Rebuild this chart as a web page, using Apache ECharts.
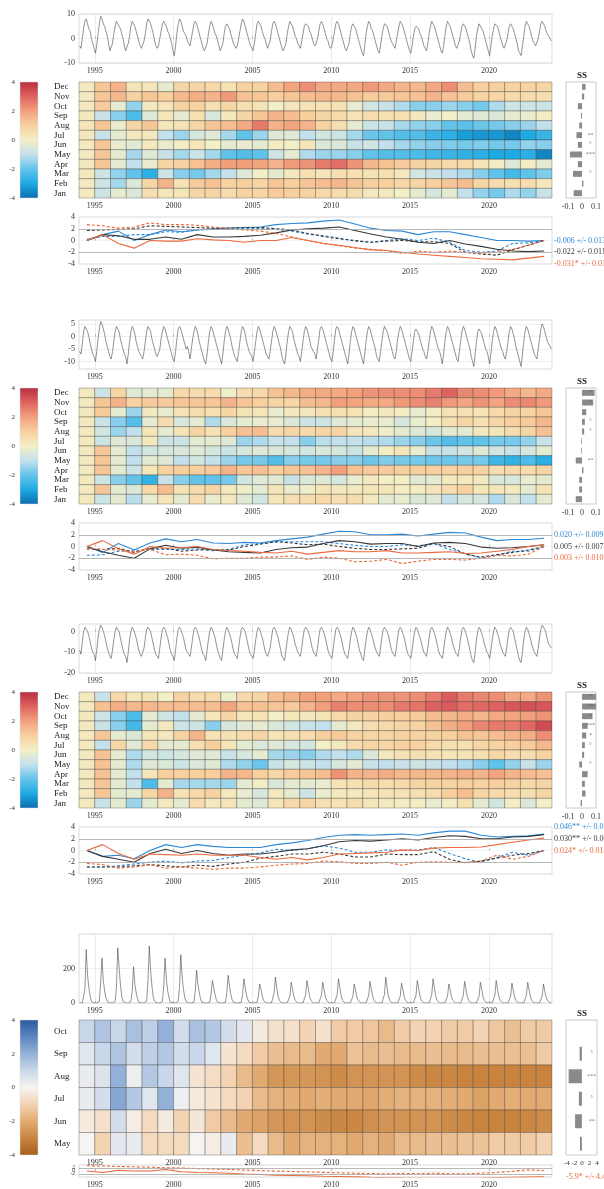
<!DOCTYPE html>
<html><head><meta charset="utf-8">
<script src="https://cdn.jsdelivr.net/npm/echarts@6/dist/echarts.min.js"></script>
<style>html,body{margin:0;padding:0;background:#fff}#c{width:604px;height:1189px}</style>
</head><body><div id="c"></div>
<script>
// ---------------- DATA ----------------
const YEARS = [1994,1995,1996,1997,1998,1999,2000,2001,2002,2003,2004,2005,2006,2007,2008,2009,2010,2011,2012,2013,2014,2015,2016,2017,2018,2019,2020,2021,2022,2023];
const YEAR_TICKS = [1995,2000,2005,2010,2015,2020];
const ROWS12 = ['Dec','Nov','Oct','Sep','Aug','Jul','Jun','May','Apr','Mar','Feb','Jan'];
const ROWS6 = ['Oct','Sep','Aug','Jul','Jun','May'];

// monthly time series, one row per year (Jan..Dec)
const ts1 = [
[-3,-4,0,4,7,8,6,4,3,0,-2,-4],[-6,-3,2,6,9,8,6,5,3,1,-2,-5],[-5,-2,2,5,7,7,5,4,2,0,-3,-5],[-5,-2,1,5,7,6,5,3,1,-1,-3,-4],
[-4,-1,2,6,8,7,6,4,2,-1,-3,-4],[-3,0,3,6,7,6,5,3,2,0,-2,-5],[-7,-3,2,6,8,7,5,3,2,1,-1,-2],[-3,0,3,6,7,6,4,2,0,-2,-4,-5],
[-5,-2,2,5,7,6,4,2,1,-1,-3,-5],[-5,-2,2,5,6,6,4,2,0,-2,-3,-4],[-3,0,3,6,8,7,5,3,1,-1,-3,-4],[-5,-2,2,6,7,7,5,3,1,0,-2,-4],
[-4,-1,3,6,7,6,4,2,0,-2,-4,-5],[-5,-2,2,5,7,7,5,3,1,0,-2,-3],[-4,-1,2,5,6,6,5,3,2,0,-2,-3],[-2,0,3,6,7,6,4,2,0,-1,-3,-4],
[-3,0,3,6,7,6,4,2,0,-2,-4,-5],[-5,-2,2,5,6,5,4,2,0,-2,-4,-6],[-7,-3,2,5,7,6,4,3,1,-1,-3,-5],[-6,-3,1,4,6,6,5,3,1,-1,-2,-3],
[-4,-1,2,5,7,6,5,3,1,-1,-3,-5],[-6,-3,1,4,5,5,4,2,1,-1,-3,-4],[-5,-2,2,5,7,6,5,3,1,-1,-3,-5],[-6,-3,1,5,7,6,5,3,1,-1,-3,-4],
[-4,-1,2,5,6,5,4,2,0,-2,-5,-7],[-8,-4,1,4,6,6,4,3,1,-1,-3,-5],[-7,-3,1,4,6,6,5,3,1,-1,-3,-4],[-4,-1,2,5,6,5,4,2,0,-2,-5,-6],
[-7,-3,1,5,7,6,5,3,1,-1,-2,-3],[-3,0,3,6,7,7,5,3,2,1,0,-1]];
const ts2 = [
[-6,-7,-3,2,4,4,2,0,-3,-5,-7,-8],[-10,-6,-1,3,6,5,3,1,-2,-4,-6,-8],[-9,-6,-2,2,4,4,2,-1,-3,-5,-7,-8],[-11,-7,-2,2,4,3,1,-2,-4,-6,-7,-8],
[-9,-6,-2,2,4,4,2,-1,-3,-5,-7,-8],[-8,-5,-1,2,4,3,1,-1,-3,-5,-7,-9],[-10,-6,-1,3,4,3,1,-1,-3,-5,-4,-6],[-9,-5,-1,2,4,3,1,-2,-4,-6,-8,-10],
[-11,-7,-2,2,4,3,1,-1,-3,-5,-7,-9],[-11,-7,-2,2,4,3,1,-1,-4,-6,-8,-9],[-10,-6,-2,2,4,3,1,-2,-4,-6,-7,-8],[-10,-6,-2,2,4,3,1,-1,-3,-5,-7,-8],
[-9,-6,-2,2,4,3,1,-1,-3,-5,-8,-10],[-11,-7,-2,2,4,4,2,-1,-3,-5,-7,-8],[-10,-6,-2,2,4,3,1,-1,-4,-5,-6,-7],[-9,-5,-1,3,4,3,1,-1,-3,-5,-7,-9],
[-10,-6,-1,3,4,3,1,-1,-3,-5,-7,-9],[-11,-7,-2,2,4,3,1,-1,-3,-5,-7,-9],[-11,-7,-2,2,4,3,1,-1,-3,-5,-8,-9],[-10,-6,-2,2,4,4,2,0,-2,-4,-6,-8],
[-9,-6,-1,2,4,3,1,-1,-3,-5,-7,-9],[-10,-6,-2,2,3,3,1,-1,-3,-5,-6,-8],[-9,-6,-2,2,4,3,1,-1,-3,-5,-6,-8],[-11,-7,-2,2,4,3,1,-1,-3,-5,-7,-9],
[-10,-6,-2,2,4,3,1,-1,-3,-5,-8,-10],[-12,-7,-2,2,3,3,1,-1,-3,-5,-6,-8],[-11,-7,-2,2,4,3,1,-1,-3,-5,-6,-8],[-9,-6,-2,2,4,3,1,-1,-4,-6,-8,-10],
[-12,-7,-2,2,4,3,1,-1,-3,-5,-7,-8],[-9,-5,-1,3,5,4,2,0,-2,-3,-4,-5]];
const ts3 = [
[-9,-11,-5,0,2,2,0,-2,-5,-8,-10,-11],[-14,-9,-3,1,3,2,0,-2,-5,-8,-10,-12],[-13,-9,-4,0,2,2,0,-3,-6,-9,-11,-12],[-15,-10,-4,0,2,1,-1,-3,-6,-9,-11,-12],
[-12,-8,-3,1,2,2,0,-3,-6,-9,-11,-12],[-13,-8,-3,1,2,1,-1,-3,-6,-9,-11,-12],[-14,-9,-3,1,2,1,-1,-3,-6,-9,-10,-11],[-12,-8,-3,1,2,1,-1,-3,-6,-9,-11,-12],
[-14,-9,-4,0,2,1,-1,-3,-6,-9,-11,-13],[-14,-9,-4,0,2,1,-1,-3,-6,-9,-11,-12],[-13,-8,-3,1,2,2,0,-3,-6,-9,-11,-12],[-13,-9,-4,0,2,1,-1,-3,-6,-9,-11,-12],
[-12,-8,-3,1,2,1,-1,-3,-6,-9,-12,-13],[-14,-9,-4,0,2,1,-1,-3,-6,-8,-10,-11],[-12,-8,-3,1,2,1,0,-2,-5,-8,-10,-11],[-12,-8,-3,1,2,1,-1,-3,-6,-9,-11,-12],
[-13,-8,-3,1,2,1,-1,-3,-6,-9,-11,-12],[-13,-9,-4,0,2,1,-1,-3,-6,-9,-11,-13],[-14,-9,-4,0,2,1,-1,-3,-6,-8,-10,-11],[-12,-8,-3,1,2,2,0,-2,-5,-8,-10,-11],
[-12,-8,-3,1,2,1,-1,-3,-6,-9,-11,-12],[-13,-9,-4,0,2,1,-1,-3,-5,-8,-10,-11],[-12,-8,-3,1,2,1,-1,-3,-6,-9,-11,-12],[-13,-9,-4,0,2,1,-1,-3,-6,-8,-10,-11],
[-12,-8,-3,1,2,1,-1,-3,-6,-9,-12,-14],[-15,-10,-4,0,2,1,-1,-3,-6,-8,-10,-11],[-13,-9,-4,0,2,1,-1,-3,-6,-8,-10,-11],[-12,-8,-3,1,2,2,0,-3,-6,-9,-12,-14],
[-15,-10,-4,0,2,1,-1,-3,-6,-8,-10,-11],[-12,-8,-3,1,3,3,1,-1,-4,-6,-7,-8]];
const ts4 = [
[0,0,0,10,80,310,160,90,40,10,0,0],[0,0,0,10,120,260,130,70,30,10,0,0],[0,0,0,10,90,320,210,110,40,10,0,0],[0,0,0,10,70,210,110,60,25,5,0,0],
[0,0,0,10,130,330,190,100,35,10,0,0],[0,0,0,10,100,260,140,70,30,5,0,0],[0,0,0,10,90,280,150,80,30,10,0,0],[0,0,0,5,70,190,110,60,25,5,0,0],
[0,0,0,5,50,130,90,50,20,5,0,0],[0,0,0,5,60,160,100,50,20,5,0,0],[0,0,0,5,50,140,90,45,20,5,0,0],[0,0,0,5,40,110,80,40,15,5,0,0],
[0,0,0,5,60,150,90,40,15,5,0,0],[0,0,0,5,40,120,80,40,15,5,0,0],[0,0,0,5,50,130,85,40,15,5,0,0],[0,0,0,5,45,120,80,40,15,5,0,0],
[0,0,0,5,50,140,90,45,15,5,0,0],[0,0,0,5,40,110,75,35,15,5,0,0],[0,0,0,5,45,125,80,40,15,5,0,0],[0,0,0,5,50,150,90,40,15,5,0,0],
[0,0,0,5,40,115,80,35,15,5,0,0],[0,0,0,5,45,130,85,40,15,5,0,0],[0,0,0,5,50,140,85,40,15,5,0,0],[0,0,0,5,40,110,75,35,15,5,0,0],
[0,0,0,5,45,125,80,40,15,5,0,0],[0,0,0,5,40,120,80,35,15,5,0,0],[0,0,0,5,45,130,80,40,15,5,0,0],[0,0,0,5,40,115,75,35,15,5,0,0],
[0,0,0,5,45,120,80,40,15,5,0,0],[0,0,0,5,40,110,70,35,15,5,0,0]];

// heatmap anomalies, rows top->bottom, 1994..2023
const heat1 = [
[0.2,1.2,1.6,0.3,0.3,-0.3,0.8,0.8,0.7,0.4,0.9,0.9,1.4,1.9,2.3,1.8,1.8,1.8,2.1,1.8,1.6,1.5,1.8,2.3,1.4,1.0,1.0,0.9,0.9,0.8],
[0.2,1.2,1.5,0.9,1.2,1.0,1.5,1.7,1.6,2.1,1.3,1.2,1.0,1.2,1.4,1.5,1.5,1.3,1.1,1.1,1.2,1.3,1.6,1.3,1.1,0.9,0.8,0.7,0.6,0.5],
[0.2,1.1,-0.3,-1.5,0.2,0.3,0.9,0.9,0.5,0.8,0.5,0.4,0.0,0.3,0.4,0.4,0.4,-0.2,-0.7,-0.9,-1.2,-1.6,-1.6,-1.4,-1.6,-1.8,-1.2,-0.8,-0.8,-0.8],
[0.2,-0.9,-1.6,-2.3,-0.4,0.3,-0.3,0.5,-0.6,0.2,0.8,1.2,1.6,1.4,1.0,0.8,0.7,0.4,0.6,0.5,0.5,0.2,-0.2,0.0,-0.3,-0.4,-0.5,-0.3,-0.2,0.1],
[0.3,1.2,-0.2,0.8,1.2,0.3,0.4,0.8,1.2,1.4,1.8,2.6,1.6,1.9,1.6,0.9,0.5,-0.3,-0.8,-0.9,-1.3,-1.5,-1.6,-2.0,-2.1,-1.9,-1.8,-1.6,-1.4,-1.0],
[0.2,-0.9,-0.3,0.2,0.2,-1.0,-1.4,-0.6,-0.4,-1.3,-2.0,-1.4,-0.4,-0.4,-1.0,-0.7,-0.8,-1.3,-1.9,-2.0,-2.2,-2.2,-2.6,-2.8,-3.2,-3.3,-3.3,-3.6,-3.0,-2.6],
[0.2,1.2,-0.2,-0.4,0.2,-0.2,0.1,0.3,0.0,-0.3,-0.2,-0.3,0.1,0.0,0.3,-0.5,-0.5,-0.9,-0.7,-1.0,-1.3,-1.5,-1.6,-1.7,-1.8,-1.7,-1.8,-1.8,-1.5,-1.6],
[0.2,1.2,-0.3,-1.3,-0.4,-0.9,-1.3,-0.8,-1.3,-2.0,-2.2,-2.0,-0.8,-0.3,-1.2,-1.4,-1.4,-1.6,-2.0,-2.2,-2.2,-2.3,-2.5,-2.6,-2.7,-2.8,-3.0,-3.0,-2.8,-3.6],
[0.2,1.2,-0.3,-1.0,-0.2,0.8,0.9,1.3,1.7,2.0,2.0,1.9,1.6,2.1,2.2,2.6,2.8,2.2,1.5,1.3,1.1,0.9,0.8,0.7,0.7,0.4,0.1,-0.5,0.1,-0.3],
[0.2,-0.8,-1.5,-2.0,-2.8,-0.8,-1.6,-1.8,-1.3,-1.0,-0.4,0.0,-0.3,0.2,0.5,0.3,0.5,0.5,0.4,0.5,0.2,-0.7,-0.9,-1.0,-1.2,-1.6,-2.0,-2.4,-2.0,-1.7],
[0.2,-0.8,-1.3,-0.5,0.8,1.6,0.4,1.1,1.3,0.9,1.0,0.8,1.2,1.0,1.2,1.4,1.5,1.2,1.0,1.0,0.8,0.8,1.0,1.2,1.4,0.8,0.6,0.5,0.6,0.2],
[0.2,-0.8,-0.3,-0.5,0.5,0.3,0.3,0.8,0.8,0.6,0.9,0.8,1.1,1.0,0.9,0.7,0.6,0.6,0.2,0.2,0.0,-0.3,-0.6,-0.3,-1.0,-1.5,-1.8,-1.2,-1.5,-0.9]];
const heat2 = [
[0.2,-0.8,0.8,-0.4,-0.3,-0.3,0.7,0.6,0.6,-0.1,0.6,0.7,1.3,1.5,1.7,1.8,1.8,2.0,2.2,2.3,2.3,2.3,2.6,3.0,2.4,2.3,2.1,1.8,1.5,1.8],
[0.2,1.2,1.6,0.9,1.1,1.1,1.2,1.2,1.2,1.6,1.2,1.0,0.8,0.8,1.4,1.5,2.0,1.9,1.8,1.8,2.1,2.3,2.5,2.1,1.9,2.2,1.9,2.3,2.4,2.1],
[0.2,1.1,-0.3,-1.4,0.2,-0.2,0.4,0.6,0.5,0.8,0.4,0.3,-0.2,0.2,0.2,0.5,0.5,0.4,0.1,0.2,0.1,-0.2,0.1,0.4,0.5,0.4,0.7,0.9,0.9,1.2],
[0.2,-0.9,-1.6,-2.2,-0.3,0.6,-0.6,-0.3,-1.2,-0.5,-0.3,-0.2,-0.2,-0.5,-0.8,-0.8,-0.4,-0.3,-0.2,-0.2,-0.6,-0.2,0.1,0.5,0.8,0.5,0.8,1.0,1.1,1.5],
[0.2,-0.7,-1.4,-1.0,0.3,-0.3,0.4,0.8,0.4,1.0,1.3,1.4,0.6,0.8,0.7,0.8,0.8,0.3,0.2,-0.1,-0.3,-0.4,-0.6,-0.3,-0.3,0.2,0.3,0.6,0.8,1.3],
[0.2,-0.8,-0.4,-0.5,0.2,-0.8,-0.8,-0.3,-0.3,-0.4,-1.4,-1.2,-0.9,-1.0,-1.6,-1.1,-1.0,-1.0,-1.1,-1.2,-1.4,-1.6,-1.9,-2.2,-2.0,-2.0,-1.8,-1.8,-1.5,-0.9],
[0.2,1.2,-0.3,-1.0,-0.7,-0.6,-0.5,-0.4,-0.6,-0.8,-0.6,-0.4,-0.5,-0.6,-0.7,-0.5,-0.6,-0.8,-0.3,0.1,0.3,-0.2,-0.9,-0.9,-0.7,-0.4,-0.7,-0.9,-0.6,-0.3],
[0.2,1.2,-0.3,-1.0,-0.3,-0.4,-1.0,-0.7,-1.0,-1.4,-1.8,-1.8,-2.2,-1.6,-1.8,-1.8,-1.6,-1.6,-1.9,-1.7,-1.8,-1.8,-1.9,-1.9,-1.8,-1.8,-2.5,-2.7,-2.3,-2.8],
[0.2,1.2,-0.3,-0.8,0.3,0.9,1.0,1.0,1.1,1.6,1.2,1.3,1.0,1.2,1.3,1.6,2.0,1.3,1.1,1.1,1.0,1.0,1.0,0.9,1.0,0.9,0.5,0.7,0.6,0.8],
[0.2,-0.8,-1.6,-2.0,-2.7,-0.9,-1.6,-2.0,-2.0,-1.8,-0.7,-0.4,-0.4,-0.9,-0.5,-0.4,-0.6,-0.2,0.2,0.0,0.0,-0.4,-0.3,0.2,0.2,0.2,-0.5,-0.6,-0.2,-0.3],
[0.2,1.2,-0.3,-0.5,0.7,1.4,0.4,0.6,0.8,0.2,-0.1,-0.3,0.3,-0.2,-0.1,0.3,0.2,0.2,0.3,0.3,0.1,0.1,0.3,0.6,0.9,0.3,0.3,0.2,-0.3,0.4],
[0.2,-0.8,-0.3,-1.1,-0.2,0.3,-0.3,0.6,-0.2,0.2,-0.4,-0.7,0.3,0.5,0.6,0.7,0.5,0.6,0.2,-0.3,-0.2,-0.5,-0.4,-1.0,-0.6,-0.6,-1.2,-0.5,-1.0,-0.3]];
const heat3 = [
[0.2,-0.9,0.7,0.3,0.4,0.0,0.9,0.6,0.7,-0.1,0.7,0.8,1.4,1.6,2.0,2.0,1.8,2.0,2.2,2.2,2.2,2.3,2.6,3.1,2.6,2.4,2.3,1.9,1.8,2.2],
[0.2,1.3,1.7,1.5,1.5,1.4,1.4,1.4,1.4,1.9,1.3,1.3,1.2,1.1,1.6,2.0,2.5,2.3,2.3,2.3,2.6,2.7,3.0,3.1,2.8,2.9,3.0,3.2,3.3,3.2],
[0.2,-0.8,-1.6,-2.3,-0.3,-0.8,-1.0,-0.3,0.3,0.8,0.3,0.4,0.0,0.3,0.2,0.4,0.7,0.9,0.9,1.0,1.0,1.1,1.4,1.5,1.7,1.5,1.8,1.9,2.0,2.2],
[0.2,-0.9,-1.6,-2.4,-0.3,0.2,-0.8,-0.8,-1.6,-0.6,-0.4,-0.3,-0.5,-0.7,-0.9,-1.0,-0.3,0.2,0.6,0.7,0.8,0.9,1.3,1.7,2.0,2.4,2.6,2.6,2.9,3.4],
[0.2,1.2,-0.3,-0.5,0.3,0.2,0.9,1.6,0.4,0.4,0.6,0.8,0.3,0.5,0.6,1.0,1.1,0.9,0.8,0.8,0.9,0.9,0.9,1.0,1.3,1.2,1.4,1.6,1.7,2.3],
[0.2,-1.0,0.8,-0.4,0.7,-0.3,-0.3,0.5,1.0,0.3,-0.3,-0.5,-0.4,-0.6,-0.7,0.0,0.2,0.6,0.8,0.8,1.0,0.9,0.7,0.5,0.5,0.8,0.9,1.0,1.1,1.5],
[0.2,1.3,-0.3,-1.2,-0.7,-0.8,-0.6,-0.4,-0.4,-0.9,-0.6,-0.3,-1.3,-1.4,-1.6,-1.2,-1.0,-1.2,-0.5,0.2,0.4,0.5,0.4,0.3,0.4,0.5,0.8,0.6,0.6,0.9],
[0.2,1.3,-0.3,-1.2,-0.4,-0.5,-0.8,-0.5,-0.4,-1.2,-1.5,-1.9,-0.9,-0.6,-0.8,-1.0,-0.6,-0.3,-0.9,-1.0,-0.9,-0.8,-0.9,-1.0,-1.2,-1.6,-2.0,-1.5,-0.9,-1.4],
[0.2,1.3,-0.3,-1.0,0.3,1.0,1.0,1.0,1.0,1.6,1.5,1.0,0.8,1.1,1.2,1.4,2.2,1.6,1.6,1.7,1.5,1.5,1.5,1.6,1.7,1.6,1.9,1.6,1.4,1.3],
[0.2,1.2,-0.3,-1.0,-2.3,-0.3,-1.3,-1.3,-1.3,-1.4,-0.3,0.1,-0.5,-0.3,-0.3,-0.2,0.4,0.5,0.7,0.6,0.7,0.8,0.9,0.9,1.0,0.9,1.0,0.9,0.7,0.8],
[0.2,1.2,-0.3,-0.3,0.8,1.6,0.4,0.7,0.9,0.2,-0.2,-0.6,0.2,-0.3,-0.8,-0.2,0.2,0.2,0.3,0.4,0.4,0.5,0.6,1.0,1.4,0.8,0.7,0.6,0.5,0.8],
[0.2,-0.9,-0.3,-1.4,-0.3,0.2,-0.3,0.6,0.2,0.3,-0.3,-0.4,0.3,0.7,0.8,0.5,0.4,0.6,0.3,0.2,0.1,0.1,-0.2,0.1,0.5,-0.3,-0.7,0.1,-0.5,0.0]];
const heat4 = [
[1.0,1.5,1.0,1.6,1.2,2.0,0.8,1.6,1.4,0.8,0.4,-0.3,-0.6,-0.6,-1.0,-0.6,-1.2,-1.2,-1.3,-1.6,-1.2,-1.0,-1.0,-1.2,-1.2,-1.0,-1.3,-1.5,-1.2,-1.2],
[0.5,1.0,1.5,0.8,1.2,1.4,0.8,1.0,0.5,-0.5,-0.8,-1.2,-1.5,-1.6,-1.6,-2.0,-2.0,-1.4,-1.6,-1.5,-1.6,-1.6,-1.5,-1.6,-1.6,-1.5,-1.5,-1.5,-1.5,-1.2],
[0.3,0.6,2.0,0.2,1.4,1.0,0.5,-0.5,-0.7,-1.0,-1.6,-2.0,-2.5,-2.5,-2.5,-2.6,-2.8,-2.6,-2.6,-2.6,-2.6,-2.8,-2.9,-2.9,-3.0,-3.0,-3.0,-3.0,-3.0,-3.0],
[0.3,0.8,2.2,1.4,0.5,2.0,0.2,-0.3,-0.5,-0.8,-1.0,-1.6,-1.8,-1.9,-2.0,-1.9,-2.0,-2.0,-2.1,-1.9,-1.8,-1.8,-1.8,-1.9,-2.0,-2.2,-2.0,-1.9,-2.0,-2.0],
[-0.3,-0.6,0.8,-0.2,-0.8,-0.3,-1.0,-0.4,-1.2,-1.6,-2.0,-2.2,-2.5,-2.6,-2.6,-2.8,-2.9,-2.9,-2.7,-2.6,-2.6,-2.6,-2.6,-2.8,-2.9,-3.0,-3.0,-3.0,-2.9,-2.8],
[0.0,-1.0,0.4,0.3,-0.8,-0.8,-0.8,0.0,-0.2,0.3,-1.5,-0.8,-1.6,-2.0,-1.8,-1.8,-1.8,-2.0,-1.8,-2.0,-1.6,-1.6,-1.5,-1.5,-1.4,-1.4,-1.2,-1.2,-1.2,-1.0]];

// SS trend bars (rows top->bottom) and significance marks
const ss1 = [0.025,0.015,-0.03,-0.007,-0.02,-0.04,-0.03,-0.087,-0.03,-0.065,0.01,-0.06];
const stars1 = ['','','','','','**','°','***','','°','',''];
const ss2 = [0.09,0.08,0.03,0.02,0.015,-0.005,-0.005,-0.045,0.01,-0.02,-0.02,-0.045];
const stars2 = ['*','*','','°','°','','','**','','','',''];
const ss3 = [0.1,0.1,0.075,0.04,0.03,0.02,0.015,-0.02,0.04,0.02,0.025,-0.01];
const stars3 = ['*','**','*','***','*','°','','°','','','',''];
const ss4 = [0.0,-0.6,-3.5,-0.8,-1.8,-0.5];
const stars4 = ['','°','***','°','**',''];

// cumulative anomaly lines (values at year+0.5)
const blueSolid1 = [0,1.0,1.6,0.0,1.0,1.8,1.5,1.8,2.0,2.1,2.2,2.3,2.7,2.9,3.0,3.3,3.5,2.8,2.1,1.7,1.6,1.0,1.5,1.5,1.0,0.5,0.0,0.0,-0.1,0.0];
const blueDash1 = [0.2,0.7,0.7,1.0,1.0,1.5,1.4,1.8,1.9,1.9,2.0,2.0,1.9,1.6,1.1,0.8,0.4,-0.1,-0.3,0.0,0.3,0.0,0.4,-0.3,-1.7,-2.0,-1.8,-0.5,-0.4,0.0];
const blackSolid1 = [0,1.0,0.8,0.2,0.2,0.6,0.2,1.0,0.6,0.6,0.7,0.9,1.3,1.8,2.0,2.1,2.3,1.7,1.1,0.6,0.2,-0.3,-0.5,0.0,-0.6,-1.0,-1.5,-1.8,-1.9,-1.8];
const blackDash1 = [1.7,1.8,1.9,2.0,2.5,2.4,2.3,2.2,2.1,2.1,2.2,2.2,2.0,1.8,1.2,0.7,0.3,0.0,-0.3,-0.1,0.0,-0.2,-0.2,-0.5,-2.0,-2.3,-2.5,-1.6,-0.8,0.0];
const orangeSolid1 = [0,1.0,-0.5,-1.3,0.0,-0.1,-0.1,0.3,0.1,0.0,-0.3,0.0,0.0,0.5,0.0,-0.5,-0.8,-1.2,-1.6,-1.7,-2.0,-2.3,-2.5,-2.7,-2.9,-3.1,-3.2,-3.3,-3.0,-2.7];
const orangeDash1 = [2.7,2.5,2.1,2.3,3.0,2.7,2.7,2.6,2.3,2.0,1.8,1.6,1.2,0.6,0.0,-0.5,-0.9,-1.3,-1.5,-1.7,-2.2,-1.8,-2.0,-1.8,-2.0,-2.2,-2.0,-1.5,-0.8,0.0];
const blueSolid2 = [0,-1.0,0.5,-0.6,0.6,1.3,0.8,1.2,0.6,0.5,0.7,0.6,1.0,1.3,1.6,2.1,2.6,2.5,2.0,2.0,2.1,1.8,2.1,2.4,2.3,1.6,1.0,1.2,1.2,1.4];
const blueDash2 = [-1.5,-1.4,-0.8,-0.7,-0.5,-0.5,-0.5,-0.4,-0.7,-0.5,0.3,0.5,0.8,0.8,0.8,0.8,0.5,0.2,0.0,0.0,0.3,0.1,0.5,-0.5,-1.2,-2.0,-1.5,-0.8,-0.8,0.0];
const blackSolid2 = [0,-0.9,-1.5,-2.0,-0.4,0.2,-0.3,-0.1,-0.6,-0.9,-1.0,-1.1,-0.5,-0.2,-0.1,0.5,1.0,0.8,0.4,0.5,0.5,0.0,0.6,0.7,0.5,-0.1,-0.3,-0.2,0.0,0.3];
const blackDash2 = [-0.4,-0.5,-0.3,-1.0,-0.3,-0.3,-0.8,-0.6,-0.5,-0.6,0.0,0.4,0.8,0.6,0.3,0.4,0.0,-0.3,-0.5,-0.5,-0.4,-0.3,0.5,0.0,-1.3,-1.8,-1.4,-1.0,-0.6,0.0];
const orangeSolid2 = [0,1.0,-0.4,-1.3,0.0,-0.3,-0.2,0.0,-0.5,-0.7,-0.8,-1.0,-1.1,-0.8,-1.3,-1.0,-0.7,-0.9,-0.9,-0.7,-1.1,-1.1,-1.0,-0.9,-1.2,-1.1,-0.8,-0.5,0.0,0.3];
const orangeDash2 = [-0.3,-0.5,-0.6,-0.9,-0.5,-1.4,-1.3,-1.5,-2.1,-2.0,-2.0,-1.8,-1.8,-1.6,-2.2,-1.8,-2.0,-2.6,-2.5,-2.2,-2.9,-2.5,-2.2,-2.2,-2.3,-2.0,-1.5,-1.6,-1.3,0.0];
const blueSolid3 = [0,-1.0,-0.8,-1.4,0.0,1.0,0.5,1.0,0.7,0.5,0.5,0.5,1.0,1.3,1.7,2.2,2.6,2.7,2.6,2.7,2.8,2.6,3.0,3.3,3.3,2.6,2.3,2.4,2.5,2.8];
const blueDash3 = [-2.8,-2.8,-2.6,-2.3,-2.0,-1.8,-2.1,-1.8,-1.7,-1.2,-0.8,-0.4,0.2,0.0,0.3,0.8,0.4,-0.3,-0.3,0.1,0.0,0.1,0.5,-0.5,-1.4,-2.0,-1.2,-0.3,-0.8,0.0];
const blackSolid3 = [0,-1.0,-1.5,-2.0,-0.5,0.2,-0.5,0.0,-0.5,-0.8,-0.6,-0.6,-0.3,0.1,0.3,0.8,1.5,1.7,1.6,1.8,2.0,1.8,2.2,2.5,2.4,2.0,2.0,2.3,2.4,2.7];
const blackDash3 = [-2.8,-2.8,-2.8,-2.6,-2.4,-2.6,-2.8,-2.5,-2.7,-2.3,-2.0,-1.3,-1.0,-0.6,-0.6,-0.3,-0.6,-1.1,-1.1,-0.6,-0.7,-0.7,-0.2,-1.5,-2.1,-1.8,-1.3,-0.8,-0.5,0.0];
const orangeSolid3 = [0,1.0,-0.5,-1.5,-0.6,-0.7,-0.8,-0.6,-0.8,-0.8,-0.8,-1.2,-1.5,-1.2,-1.6,-1.2,-0.6,-0.5,-0.4,-0.3,0.1,0.0,0.4,0.5,0.5,0.6,1.0,1.4,1.8,2.1];
const orangeDash3 = [-2.2,-2.4,-3.0,-2.8,-2.4,-3.0,-2.8,-3.0,-3.2,-3.0,-3.0,-2.8,-2.5,-2.3,-2.2,-1.8,-1.9,-2.2,-2.2,-2.0,-2.5,-2.0,-1.9,-2.0,-2.0,-1.8,-0.8,-1.5,-1.0,0.0];
const orangeSolid4 = [0,-1.0,0.5,0.0,0.0,1.0,-0.5,-1.0,-1.2,-1.5,-2.0,-2.3,-2.8,-3.0,-3.2,-3.5,-3.7,-3.9,-4.2,-4.4,-4.6,-4.7,-4.8,-4.8,-4.9,-4.7,-4.4,-4.2,-4.0,-3.8];
const orangeDash4 = [3.5,3.3,3.0,2.8,2.5,2.2,2.0,1.6,1.3,1.0,0.6,0.3,0.0,-0.3,-0.6,-0.9,-1.2,-1.5,-1.7,-1.9,-1.6,-1.8,-1.5,-1.8,-1.9,-1.5,-1.0,-0.2,0.8,0.3];

const stats1 = ['-0.006 +/- 0.013','-0.022 +/- 0.011','-0.031* +/- 0.015'];
const stats2 = ['0.020 +/- 0.009','0.005 +/- 0.007','0.003 +/- 0.010'];
const stats3 = ['0.046** +/- 0.012','0.030** +/- 0.009','0.024* +/- 0.014'];
const stats4 = ['-5.9* +/- 4.4'];

// ---------------- STYLE / LAYOUT ----------------
const FONT = 'Liberation Serif';
const BLUE = '#2e88d6', BLACK = '#383838', ORANGE = '#ea6a3c';
const CMAP_TEMP = ['#0a6cae','#1eaae2','#62c3ea','#c3e1ec','#f3efc6','#f8d09e','#f2a07c','#de6260','#b92d3e'];
const CMAP_FLOW = ['#a65e1c','#c8843f','#e2aa70','#f3d3b2','#f6f4f1','#cad7ea','#93b1d8','#5c86c0','#2b59a0'];
const L = 79, W = 473;
const PANELS = [
 {tsTop:14, tsH:49, tsMin:-10, tsMax:10, tsTicks:[-10,0,10], ts:ts1, hmTop:82, hmH:116, heat:heat1, rows:ROWS12, cmap:CMAP_TEMP,
  ss:ss1, stars:stars1, ssMin:-0.115, ssMax:0.1, ssTicks:[-0.1,0,0.1], ssFont:8, starX:0.06, lnTop:217, lnH:47, lnFont:8, statX:554,
  lines:[[blueSolid1,BLUE,0],[blueDash1,BLUE,1],[blackSolid1,BLACK,0],[blackDash1,BLACK,1],[orangeSolid1,ORANGE,0],[orangeDash1,ORANGE,1]],
  stats:stats1, statCol:[BLUE,BLACK,ORANGE], statLev:[0,-2,-4]},
 {tsTop:320, tsH:49, tsMin:-13, tsMax:6.6, tsTicks:[-10,-5,0,5], ts:ts2, hmTop:388, hmH:116, heat:heat2, rows:ROWS12, cmap:CMAP_TEMP,
  ss:ss2, stars:stars2, ssMin:-0.115, ssMax:0.1, ssTicks:[-0.1,0,0.1], ssFont:8, starX:0.06, lnTop:523, lnH:47, lnFont:8, statX:554,
  lines:[[blueSolid2,BLUE,0],[blueDash2,BLUE,1],[blackSolid2,BLACK,0],[blackDash2,BLACK,1],[orangeSolid2,ORANGE,0],[orangeDash2,ORANGE,1]],
  stats:stats2, statCol:[BLUE,BLACK,ORANGE], statLev:[2,0,-2]},
 {tsTop:624, tsH:49, tsMin:-20, tsMax:3.6, tsTicks:[-20,-10,0], ts:ts3, hmTop:692, hmH:116, heat:heat3, rows:ROWS12, cmap:CMAP_TEMP,
  ss:ss3, stars:stars3, ssMin:-0.115, ssMax:0.1, ssTicks:[-0.1,0,0.1], ssFont:8, starX:0.06, lnTop:827, lnH:47, lnFont:8, statX:554,
  lines:[[blueSolid3,BLUE,0],[blueDash3,BLUE,1],[blackSolid3,BLACK,0],[blackDash3,BLACK,1],[orangeSolid3,ORANGE,0],[orangeDash3,ORANGE,1]],
  stats:stats3, statCol:[BLUE,BLACK,ORANGE], statLev:[4,2,0]},
 {tsTop:934, tsH:69, tsMin:0, tsMax:400, tsTicks:[0,200], ts:ts4, hmTop:1020, hmH:135, heat:heat4, rows:ROWS6, cmap:CMAP_FLOW,
  ss:ss4, stars:stars4, ssMin:-4.2, ssMax:4, ssTicks:[-4,-2,0,2,4], ssFont:7, starX:2.6, lnTop:1165, lnH:20, lnFont:5.5, statX:566,
  lines:[[orangeSolid4,ORANGE,0],[orangeDash4,ORANGE,1]],
  stats:stats4, statCol:[ORANGE], statLev:[-0.8]}
];

// ---------------- BUILD ----------------
const grids=[], xAxes=[], yAxes=[], series=[], graphics=[], vmSeries=[[],[]];
function addGrid(g, xa, ya){ const i=grids.length; grids.push(g); xAxes.push(Object.assign({gridIndex:i}, xa)); yAxes.push(Object.assign({gridIndex:i}, ya)); return i; }
const lab = (extra) => Object.assign({fontFamily:FONT, fontSize:8, color:'#333'}, extra||{});
const plain = (v) => String(v);
function yearAxis(showLab, split){
  return {type:'value', min:1994, max:2024, axisLine:{show:false},
    axisTick:{show:true, inside:true, length:2, customValues:YEAR_TICKS, lineStyle:{color:'#888', width:0.6}},
    axisLabel:lab({show:showLab, customValues:YEAR_TICKS, margin:4, formatter:plain}),
    splitLine:{show:split, lineStyle:{color:'#dedede', width:0.6}}};
}
const frame = {show:true, borderColor:'#cfcfcf', borderWidth:0.8, backgroundColor:'transparent'};

PANELS.forEach((P, pi) => {
  // time series
  const tsPts = [];
  P.ts.forEach((row, yi) => row.forEach((v, m) => tsPts.push([YEARS[yi] + (m + 0.5) / 12, v])));
  let g = addGrid(Object.assign({left:L, width:W, top:P.tsTop, height:P.tsH}, frame), yearAxis(true, true),
    {type:'value', min:P.tsMin, max:P.tsMax, axisLine:{show:false},
     axisTick:{show:false, customValues:P.tsTicks}, axisLabel:lab({customValues:P.tsTicks, margin:4, formatter:plain}),
     splitLine:{show:true, lineStyle:{color:'#e4e4e4', width:0.6}}});
  series.push({type:'line', xAxisIndex:g, yAxisIndex:g, data:tsPts, showSymbol:false, silent:true,
    lineStyle:{color:'#4a4a4a', width:0.6}});

  // colorbar
  const nR = P.rows.length;
  g = addGrid({left:20, width:18, top:P.hmTop, height:P.hmH},
    {type:'value', min:0, max:1, show:false},
    {type:'value', min:-4, max:4, interval:2, axisLine:{show:false}, axisTick:{show:false},
     axisLabel:lab({fontSize:7, margin:5}), splitLine:{show:false}});
  const stops = P.cmap.slice().reverse().map((c, k, a) => ({offset:k / (a.length - 1), color:c}));
  series.push({type:'custom', xAxisIndex:g, yAxisIndex:g, data:[[0, 4]], silent:true,
    renderItem:(params, api) => {
      const a = api.coord([0, 4]), b = api.coord([1, -4]);
      return {type:'rect', shape:{x:a[0], y:a[1], width:b[0]-a[0], height:b[1]-a[1]},
        style:{fill:new echarts.graphic.LinearGradient(0, 0, 0, 1, stops), stroke:'#ddd', lineWidth:0.5}};
    }});

  // heatmap
  const rowTicks = P.rows.map((_, k) => k + 0.5);
  g = addGrid({left:L, width:W, top:P.hmTop, height:P.hmH}, yearAxis(true, false),
    {type:'value', min:0, max:nR, axisLine:{show:false}, axisTick:{show:false, customValues:rowTicks},
     axisLabel:lab({customValues:rowTicks, fontSize:9, color:'#222', align:'left', margin:25,
       formatter:(v) => P.rows[nR - 1 - Math.floor(v)]}), splitLine:{show:false}});
  const cells = [];
  P.heat.forEach((row, k) => row.forEach((v, yi) => cells.push([YEARS[yi], nR - 1 - k, v])));
  vmSeries[pi === 3 ? 1 : 0].push(series.length);
  series.push({type:'custom', xAxisIndex:g, yAxisIndex:g, data:cells, encode:{x:0, y:1}, silent:true,
    renderItem:(params, api) => {
      const x0 = api.value(0), r = api.value(1);
      const a = api.coord([x0, r + 1]), b = api.coord([x0 + 1, r]);
      return {type:'rect', shape:{x:a[0], y:a[1], width:b[0]-a[0], height:b[1]-a[1]},
        style:{fill:api.visual('color'), stroke:'rgba(45,45,45,0.55)', lineWidth:0.6}};
    }});

  // SS bars
  g = addGrid({left:566, width:31, top:P.hmTop, height:P.hmH, show:true, borderColor:'#bdbdbd', borderWidth:0.8},
    {type:'value', min:P.ssMin, max:P.ssMax, axisLine:{show:false}, axisTick:{show:false, customValues:P.ssTicks},
     axisLabel:lab({customValues:P.ssTicks, margin:5, fontSize:P.ssFont, formatter:plain}), splitLine:{show:false}},
    {type:'category', data:P.rows, inverse:true, axisLine:{show:false}, axisTick:{show:false}, axisLabel:{show:false}});
  series.push({type:'bar', xAxisIndex:g, yAxisIndex:g, data:P.ss, barWidth:'62%', silent:true,
    itemStyle:{color:'#8a8a8a'}});
  series.push({type:'scatter', xAxisIndex:g, yAxisIndex:g, symbolSize:0, silent:true,
    data:P.stars.map((s, k) => [P.starX, k]),
    label:{show:true, position:'inside', fontFamily:FONT, fontSize:6, color:'#555', formatter:(p) => P.stars[p.dataIndex]}});
  graphics.push({type:'text', x:582, y:P.hmTop - 6, style:{text:'SS', font:'bold 9px ' + FONT, fill:'#222', align:'center', verticalAlign:'middle'}});

  // cumulative lines
  g = addGrid(Object.assign({left:L, width:W, top:P.lnTop, height:P.lnH}, frame), yearAxis(true, false),
    {type:'value', min:-4, max:4, interval:2, axisLine:{show:false}, axisTick:{show:false},
     axisLabel:lab({margin:4, fontSize:P.lnFont, hideOverlap:false}), splitLine:{show:true, lineStyle:{color:'#ececec', width:0.6}}});
  series.push({type:'line', xAxisIndex:g, yAxisIndex:g, data:[], silent:true,
    markLine:{silent:true, symbol:'none', label:{show:false}, lineStyle:{color:'#a8a8a8', width:0.8, type:'solid'},
      data:[{yAxis:2},{yAxis:-2}]}});
  P.lines.forEach(([vals, col, dashed]) => {
    series.push({type:'line', xAxisIndex:g, yAxisIndex:g, data:vals.map((v, i) => [YEARS[i] + 0.5, v]),
      showSymbol:false, silent:true, z:3, lineStyle:{color:col, width:1.1, type:dashed ? [3, 2] : 'solid'}});
  });
  P.stats.forEach((t, k) => {
    const y = P.lnTop + (4 - P.statLev[k]) / 8 * P.lnH;
    graphics.push({type:'text', x:P.statX, y:y, style:{text:t, font:'8px ' + FONT, fill:P.statCol[k], verticalAlign:'middle'}});
  });
});

const chart = echarts.init(document.getElementById('c'), null, {width:604, height:1189});
chart.setOption({
  animation:false, backgroundColor:'#fff',
  grid:grids, xAxis:xAxes, yAxis:yAxes, series:series, graphic:graphics,
  visualMap:[
    {type:'continuous', show:false, min:-4, max:4, dimension:2, seriesIndex:vmSeries[0], inRange:{color:CMAP_TEMP}},
    {type:'continuous', show:false, min:-4, max:4, dimension:2, seriesIndex:vmSeries[1], inRange:{color:CMAP_FLOW}}
  ]
});
</script></body></html>
